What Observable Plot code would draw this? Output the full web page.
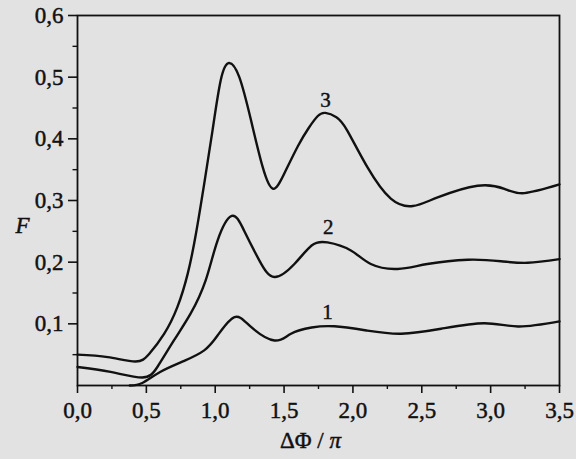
<!DOCTYPE html>
<html>
<head>
<meta charset="utf-8">
<script src="https://cdn.jsdelivr.net/npm/d3@7"></script>
<script src="https://cdn.jsdelivr.net/npm/@observablehq/plot@0.6"></script>
<style>
  html, body { margin: 0; padding: 0; background: #e2e2e2; }
  #chart { width: 576px; height: 459px; }
  #chart svg text { font-family: "Liberation Serif", "Times New Roman", serif !important; font-size: 23px; stroke: #111; stroke-width: 0.45px; }
  #chart svg text.curvelabel { font-size: 21px; }
</style>
</head>
<body>
<div id="chart"></div>
<script>
// Curve 3
const phi3 = [0.00, 0.22, 0.42, 0.52, 0.63, 0.725, 0.80, 0.86, 0.92, 0.98, 1.04, 1.10, 1.175, 1.26, 1.345, 1.42, 1.50, 1.60, 1.68, 1.745, 1.80, 1.88, 1.96, 2.105, 2.275, 2.435, 2.615, 2.905, 3.10, 3.245, 3.50];
const f3   = [0.050, 0.046, 0.039, 0.051, 0.084, 0.127, 0.181, 0.246, 0.327, 0.413, 0.495, 0.523, 0.500, 0.430, 0.354, 0.319, 0.343, 0.388, 0.418, 0.437, 0.442, 0.435, 0.413, 0.354, 0.303, 0.291, 0.305, 0.324, 0.319, 0.312, 0.326];
// Curve 2
const phi2 = [0.00, 0.24, 0.47, 0.58, 0.70, 0.82, 0.93, 1.017, 1.12, 1.21, 1.32, 1.43, 1.575, 1.70, 1.815, 1.985, 2.13, 2.325, 2.54, 2.835, 3.075, 3.27, 3.50];
const f2   = [0.030, 0.022, 0.013, 0.030, 0.073, 0.116, 0.170, 0.235, 0.275, 0.251, 0.203, 0.176, 0.197, 0.227, 0.232, 0.219, 0.197, 0.189, 0.197, 0.204, 0.2015, 0.199, 0.205];
// Curve 1
const phi1 = [0.38, 0.47, 0.60, 0.775, 0.92, 1.017, 1.14, 1.26, 1.43, 1.55, 1.70, 1.865, 2.105, 2.35, 2.64, 2.955, 3.20, 3.50];
const f1   = [0.000, 0.004, 0.022, 0.040, 0.057, 0.081, 0.111, 0.095, 0.073, 0.084, 0.094, 0.096, 0.089, 0.084, 0.092, 0.101, 0.0957, 0.104];

// Curve labels
const curveNames = ["1", "2", "3"];
const curveLabelPhi = [1.815, 1.82, 1.80];
const curveLabelF = [0.119, 0.257, 0.462];

// Ticks
const xMajor = [0, 0.5, 1.0, 1.5, 2.0, 2.5, 3.0, 3.5];
const xMinor = [0.25, 0.75, 1.25, 1.75, 2.25, 2.75, 3.25];
const yMajor = [0.1, 0.2, 0.3, 0.4, 0.5, 0.6];
const yMinor = [0.05, 0.15, 0.25, 0.35, 0.45, 0.55];

const xTitle = "ΔΦ / π";
const yTitle = "F";

const rows = [
  ...phi1.map((p, i) => ({curve: "1", phi: p, f: f1[i]})),
  ...phi2.map((p, i) => ({curve: "2", phi: p, f: f2[i]})),
  ...phi3.map((p, i) => ({curve: "3", phi: p, f: f3[i]}))
];
const labelRows = curveNames.map((n, i) => ({name: n, phi: curveLabelPhi[i], f: curveLabelF[i]}));
const fmt = d => d.toFixed(1).replace(".", ",");
const ink = "#111";

const chart = Plot.plot({
  width: 576,
  height: 459,
  marginLeft: 77,
  marginRight: 17,
  marginTop: 15,
  marginBottom: 74,
  x: {domain: [0, 3.5]},
  y: {domain: [0, 0.6]},
  style: {fontFamily: "'Liberation Serif', serif", fontSize: "23px", background: "#e2e2e2", color: ink},
  marks: [
    Plot.axisY(yMajor, {tickSize: 9, tickPadding: 5, tickFormat: fmt, label: null, strokeWidth: 1.6, stroke: ink, fill: ink}),
    Plot.axisY(yMinor, {tickSize: 4.5, tickFormat: () => "", label: null, strokeWidth: 1.4, stroke: ink}),
    Plot.axisX(xMajor, {tickSize: 8, tickPadding: 8, tickFormat: fmt, label: null, strokeWidth: 1.6, stroke: ink, fill: ink}),
    Plot.axisX(xMinor, {tickSize: 4, tickFormat: () => "", label: null, strokeWidth: 1.4, stroke: ink}),
    Plot.frame({stroke: ink, strokeWidth: 1.8}),
    Plot.line(rows, {x: "phi", y: "f", z: "curve", curve: "natural", stroke: ink, strokeWidth: 2.4}),
    Plot.text(labelRows, {x: "phi", y: "f", text: "name", fill: ink, className: "curvelabel"}),
    Plot.text([yTitle], {frameAnchor: "left", y: [0.259], text: d => d, dx: -62, fontStyle: "italic", fill: ink}),
    Plot.text([xTitle], {frameAnchor: "bottom", text: d => d, dx: -8, dy: 62, fill: ink})
  ]
});
document.getElementById("chart").appendChild(chart);

// curve labels a bit smaller
chart.querySelectorAll("g.curvelabel text").forEach(t => t.classList.add("curvelabel"));

// italicize π in the x title
chart.querySelectorAll("text").forEach(t => {
  if (t.textContent === xTitle) {
    t.textContent = "";
    const a = document.createElementNS("http://www.w3.org/2000/svg", "tspan");
    a.textContent = "ΔΦ / ";
    const b = document.createElementNS("http://www.w3.org/2000/svg", "tspan");
    b.textContent = "π";
    b.setAttribute("font-style", "italic");
    t.appendChild(a);
    t.appendChild(b);
  }
});
</script>
</body>
</html>
